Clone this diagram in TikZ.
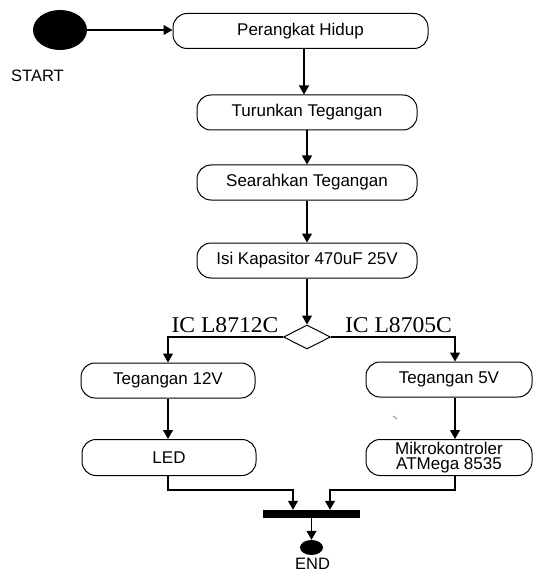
\documentclass[tikz,border=0pt]{standalone}
\usepackage{fontspec}
\setmainfont{Liberation Sans}
\newfontfamily\icfont[FakeStretch=1.05]{Liberation Serif}
\usetikzlibrary{arrows.meta,shapes.geometric}
\begin{document}
\begin{tikzpicture}[x=1pt,y=-1pt,
  act/.style={draw,line width=1pt,rounded corners=14pt,minimum height=35pt,inner sep=0pt,font=\fontsize{17}{15.5}\selectfont,align=center},
  conn/.style={line width=1.1pt,-{Triangle[length=9pt,width=10pt]}},
  lbl/.style={font=\icfont\fontsize{22.5}{22.5}\selectfont,inner sep=0pt},
  txt/.style={font=\fontsize{16.5}{16.5}\selectfont,inner sep=0pt}]
\useasboundingbox[fill=white] (0,0) rectangle (533,572);
% start
\node[fill=black,ellipse,minimum width=54pt,minimum height=40pt,inner sep=0pt] (st) at (60,30) {};
\node[txt] (stl) at (37.5,76) {START};
% activities
\node[act,minimum width=255pt] (pk) at (300.5,31) {Perangkat Hidup};
\node[act,minimum width=220pt] (tr) at (307,112.5) {Turunkan Tegangan};
\node[act,minimum width=220pt] (sr) at (307,182.5) {Searahkan Tegangan};
\node[act,minimum width=220pt] (isi) at (307,260.5) {Isi Kapasitor 470uF 25V};
\node[draw,diamond,line width=1pt,inner sep=0pt,minimum width=47pt,minimum height=24pt,aspect=1.96] (dm) at (307,337) {};
\node[lbl] (l1) at (225,325) {IC L8712C};
\node[lbl] (l2) at (398.5,325) {IC L8705C};
\node[act,minimum width=174pt] (t12) at (168,380.5) {Tegangan 12V};
\node[act,minimum width=166pt] (t5) at (449,379.5) {Tegangan 5V};
\node[act,minimum width=174pt,minimum height=36pt] (led) at (169,457.5) {LED};
\node[act,minimum width=166pt,minimum height=36pt] (mk) at (449,457.5) {Mikrokontroler\\ATMega 8535};
% join bar and end
\node[fill=black,rectangle,minimum width=97pt,minimum height=8pt,inner sep=0pt] (bar) at (311.5,514) {};
\node[fill=black,ellipse,minimum width=23pt,minimum height=15pt,inner sep=0pt] (en) at (311.5,547.5) {};
\node[txt] (enl) at (312.5,563.5) {END};
% helper coordinates
\coordinate (rx) at (455,0);
\coordinate (lx) at (168,0);
\coordinate (my) at (0,490);
\coordinate (bl) at (293,0);
\coordinate (br) at (330,0);
% connectors
\draw[conn] (st.east) -- (st.east -| pk.west);
\draw[conn] (pk.south -| 304,0) -- (tr.north -| 304,0);
\draw[conn] (tr) -- (sr);
\draw[conn] (sr) -- (isi);
\draw[conn] (isi) -- (dm.north);
\draw[conn] (dm.west) -| (t12.north -| lx);
\draw[conn] (dm.east) -| (t5.north -| rx);
\draw[conn] (t12.south -| lx) -- (led.north -| lx);
\draw[conn] (t5.south -| rx) -- (mk.north -| rx);
\draw[conn] (led.south -| lx) -- (lx |- my) -- (bl |- my) -- (bl |- bar.north);
\draw[conn] (mk.south -| rx) -- (rx |- my) -- (br |- my) -- (br |- bar.north);
\draw[conn] (bar.south) -- (en.north);
% stray mark
\draw[line width=0.8pt,gray] (393,416) -- (397,419);
\end{tikzpicture}
\end{document}
